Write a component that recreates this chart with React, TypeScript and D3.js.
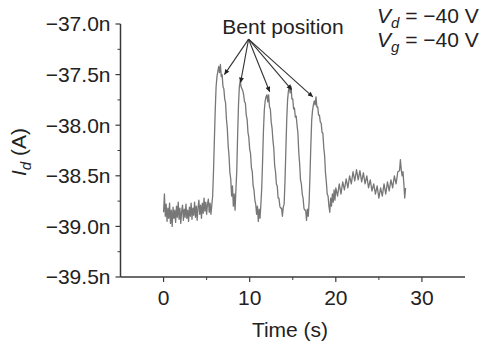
import React from "react";
import * as d3 from "d3";

// ---- data ----
const timeS: number[] = [
  0.0, 0.1, 0.2, 0.3, 0.4, 0.5, 0.6, 0.7, 0.8, 0.9,
  1.0, 1.1, 1.2, 1.3, 1.4, 1.5, 1.6, 1.7, 1.8, 1.9,
  2.0, 2.1, 2.2, 2.3, 2.4, 2.5, 2.6, 2.7, 2.8, 2.9,
  3.0, 3.1, 3.2, 3.3, 3.4, 3.5, 3.6, 3.7, 3.8, 3.9,
  4.0, 4.1, 4.2, 4.3, 4.4, 4.5, 4.6, 4.7, 4.8, 4.9,
  5.0, 5.1, 5.2, 5.3, 5.4, 5.5, 5.6, 5.7, 5.8, 5.9,
  6.0, 6.1, 6.2, 6.3, 6.4, 6.5, 6.6, 6.7, 6.8, 6.9,
  7.0, 7.1, 7.2, 7.3, 7.4, 7.5, 7.6, 7.7, 7.8, 7.9,
  8.0, 8.1, 8.2, 8.3, 8.4, 8.5, 8.6, 8.7, 8.8, 8.9,
  9.0, 9.1, 9.2, 9.3, 9.4, 9.5, 9.6, 9.7, 9.8, 9.9,
  10.0, 10.1, 10.2, 10.3, 10.4, 10.5, 10.6, 10.7, 10.8, 10.9,
  11.0, 11.1, 11.2, 11.3, 11.4, 11.5, 11.6, 11.7, 11.8, 11.9,
  12.0, 12.1, 12.2, 12.3, 12.4, 12.5, 12.6, 12.7, 12.8, 12.9,
  13.0, 13.1, 13.2, 13.3, 13.4, 13.5, 13.6, 13.7, 13.8, 13.9,
  14.0, 14.1, 14.2, 14.3, 14.4, 14.5, 14.6, 14.7, 14.8, 14.9,
  15.0, 15.1, 15.2, 15.3, 15.4, 15.5, 15.6, 15.7, 15.8, 15.9,
  16.0, 16.1, 16.2, 16.3, 16.4, 16.5, 16.6, 16.7, 16.8, 16.9,
  17.0, 17.1, 17.2, 17.3, 17.4, 17.5, 17.6, 17.7, 17.8, 17.9,
  18.0, 18.1, 18.2, 18.3, 18.4, 18.5, 18.6, 18.7, 18.8, 18.9,
  19.0, 19.1, 19.2, 19.3, 19.4, 19.5, 19.6, 19.7, 19.8, 19.9,
  20.0, 20.2, 20.4, 20.6, 20.8, 21.0, 21.2, 21.4, 21.6, 21.8,
  22.0, 22.2, 22.4, 22.6, 22.8, 23.0, 23.2, 23.4, 23.6, 23.8,
  24.0, 24.2, 24.4, 24.6, 24.8, 25.0, 25.2, 25.4, 25.6, 25.8,
  26.0, 26.2, 26.4, 26.6, 26.8, 27.0, 27.2, 27.4, 27.5, 27.6,
  27.7, 27.8, 27.9, 28.0, 28.1,
];

const currentNA: number[] = [
  -38.86, -38.68, -38.90, -38.78, -38.95, -38.82, -38.92, -38.77, -38.97, -38.84,
  -39.00, -38.81, -38.92, -38.84, -38.96, -38.80, -38.91, -38.76, -38.93, -38.82,
  -38.97, -38.85, -38.79, -38.94, -38.83, -38.91, -38.78, -38.92, -38.84, -38.95,
  -38.81, -38.90, -38.77, -38.93, -38.82, -38.89, -38.76, -38.91, -38.80, -38.94,
  -38.82, -38.74, -38.88, -38.79, -38.92, -38.77, -38.87, -38.72, -38.85, -38.76,
  -38.88, -38.78, -38.73, -38.86, -38.77, -38.88, -38.79, -38.70, -38.45, -38.15,
  -37.85, -37.62, -37.52, -37.47, -37.42, -37.48, -37.40, -37.52, -37.50, -37.62,
  -37.64, -37.74, -37.78, -37.94, -38.03, -38.20, -38.30, -38.47, -38.53, -38.70,
  -38.60, -38.80, -38.68, -38.84, -38.64, -38.45, -38.10, -37.80, -37.62, -37.56,
  -37.62, -37.64, -37.66, -37.70, -37.77, -37.78, -37.90, -37.94, -38.07, -38.12,
  -38.24, -38.28, -38.42, -38.46, -38.60, -38.64, -38.74, -38.78, -38.88, -38.80,
  -38.95, -38.83, -38.92, -38.78, -38.62, -38.35, -38.05, -37.85, -37.76, -37.72,
  -37.70, -37.77, -37.70, -37.82, -37.84, -37.97, -38.03, -38.15, -38.23, -38.40,
  -38.46, -38.58, -38.60, -38.72, -38.72, -38.80, -38.82, -38.82, -38.90, -38.81,
  -38.78, -38.55, -38.25, -37.95, -37.75, -37.66, -37.62, -37.68, -37.62, -37.74,
  -37.74, -37.84, -37.83, -37.92, -37.91, -38.00, -38.08, -38.27, -38.38, -38.54,
  -38.58, -38.68, -38.72, -38.82, -38.84, -38.84, -38.94, -38.83, -38.90, -38.76,
  -38.50, -38.20, -37.95, -37.85, -37.80, -37.76, -37.80, -37.72, -37.82, -37.82,
  -37.90, -37.90, -37.97, -37.98, -38.07, -38.08, -38.22, -38.30, -38.47, -38.56,
  -38.68, -38.70, -38.80, -38.86, -38.72, -38.80, -38.68, -38.76, -38.64, -38.74,
  -38.62, -38.70, -38.58, -38.68, -38.56, -38.64, -38.53, -38.62, -38.50, -38.58,
  -38.46, -38.55, -38.44, -38.54, -38.45, -38.56, -38.47, -38.58, -38.50, -38.62,
  -38.54, -38.65, -38.58, -38.68, -38.60, -38.72, -38.62, -38.70, -38.58, -38.68,
  -38.56, -38.65, -38.54, -38.62, -38.50, -38.58, -38.46, -38.45, -38.34, -38.44,
  -38.50, -38.46, -38.58, -38.72, -38.62,
];

const xTicks: number[] = [0, 10, 20, 30];
const xMinorTicks: number[] = [5, 15, 25];
const yTicks: number[] = [-37.0, -37.5, -38.0, -38.5, -39.0, -39.5];
const yTickLabels: string[] = ["\u221237.0n", "\u221237.5n", "\u221238.0n", "\u221238.5n", "\u221239.0n", "\u221239.5n"];
const yMinorTicks: number[] = [-37.25, -37.75, -38.25, -38.75, -39.25];

// annotation: arrow origin and arrow tips (time, current)
const arrowOrigin: [number, number] = [9.87, -37.15];
const arrowTipTimes: number[] = [7.07, 8.94, 12.32, 14.88, 17.33];
const arrowTipCurrents: number[] = [-37.5, -37.58, -37.67, -37.65, -37.72];

const FONT = "'Liberation Sans', Arial, Helvetica, sans-serif";
const FS = 21;

export default function App() {
  const width = 488;
  const height = 349;
  const x = d3.scaleLinear().domain([-5, 35]).range([120.5, 465]);
  const y = d3.scaleLinear().domain([-39.5, -37]).range([277, 24]);

  const pts: [number, number][] = timeS.map((t, i) => [x(t), y(currentNA[i])]);
  const line = d3.line<[number, number]>().x((d) => d[0]).y((d) => d[1]);

  const axisColor = "#3a3a3a";
  const x0 = x(-5);
  const y0 = y(-39.5);

  const ox = x(arrowOrigin[0]);
  const oy = y(arrowOrigin[1]);

  return (
    <svg width={width} height={height} style={{ position: "absolute", left: 0, top: 0, background: "#fff" }} fontFamily={FONT}>
      <defs>
        <marker id="ah" viewBox="0 0 10 10" refX="10" refY="5" markerWidth="7" markerHeight="5" orient="auto" markerUnits="userSpaceOnUse">
          <path d="M0,0 L10,5 L0,10 z" fill="#222" />
        </marker>
      </defs>

      {/* trace */}
      <path d={line(pts) || ""} fill="none" stroke="#777" strokeWidth={1.3} strokeLinejoin="round" />

      {/* axes */}
      <line x1={x0} y1={y(-37)} x2={x0} y2={y0} stroke={axisColor} strokeWidth={1.5} />
      <line x1={x0} y1={y0} x2={x(35)} y2={y0} stroke={axisColor} strokeWidth={1.5} />

      {yTicks.map((v, i) => (
        <g key={"yt" + i}>
          <line x1={x0 - 5} x2={x0} y1={y(v)} y2={y(v)} stroke={axisColor} strokeWidth={1.2} />
          <text x={x0 - 10} y={y(v)} dy="0.35em" textAnchor="end" fontSize={FS} fill="#222">
            {yTickLabels[i]}
          </text>
        </g>
      ))}
      {yMinorTicks.map((v, i) => (
        <line key={"ym" + i} x1={x0 - 3} x2={x0} y1={y(v)} y2={y(v)} stroke={axisColor} strokeWidth={1} />
      ))}

      {xTicks.map((v, i) => (
        <g key={"xt" + i}>
          <line x1={x(v)} x2={x(v)} y1={y0} y2={y0 + 5} stroke={axisColor} strokeWidth={1.2} />
          <text x={x(v)} y={305} textAnchor="middle" fontSize={FS} fill="#222">
            {v}
          </text>
        </g>
      ))}
      {xMinorTicks.map((v, i) => (
        <line key={"xm" + i} x1={x(v)} x2={x(v)} y1={y0} y2={y0 + 3} stroke={axisColor} strokeWidth={1} />
      ))}

      {/* axis titles */}
      <text x={290} y={337} textAnchor="middle" fontSize={FS} fill="#222">
        Time (s)
      </text>
      <text transform="translate(26,152) rotate(-90)" textAnchor="middle" fontSize={FS} fill="#222">
        <tspan fontStyle="italic">I</tspan>
        <tspan fontStyle="italic" fontSize={15} dy={5}>d</tspan>
        <tspan dy={-5}> (A)</tspan>
      </text>

      {/* annotation */}
      <text x={283} y={34} textAnchor="middle" fontSize={FS} fill="#222">
        Bent position
      </text>
      {arrowTipTimes.map((t, i) => (
        <line key={"ar" + i} x1={ox} y1={oy} x2={x(t)} y2={y(arrowTipCurrents[i])} stroke="#333" strokeWidth={1.1} markerEnd="url(#ah)" />
      ))}

      <text x={377} y={23} fontSize={FS} fill="#222">
        <tspan fontStyle="italic">V</tspan>
        <tspan fontStyle="italic" fontSize={15} dy={5}>d</tspan>
        <tspan dy={-5}>{" = \u221240 V"}</tspan>
      </text>
      <text x={377} y={47} fontSize={FS} fill="#222">
        <tspan fontStyle="italic">V</tspan>
        <tspan fontStyle="italic" fontSize={15} dy={5}>g</tspan>
        <tspan dy={-5}>{" = \u221240 V"}</tspan>
      </text>
    </svg>
  );
}
